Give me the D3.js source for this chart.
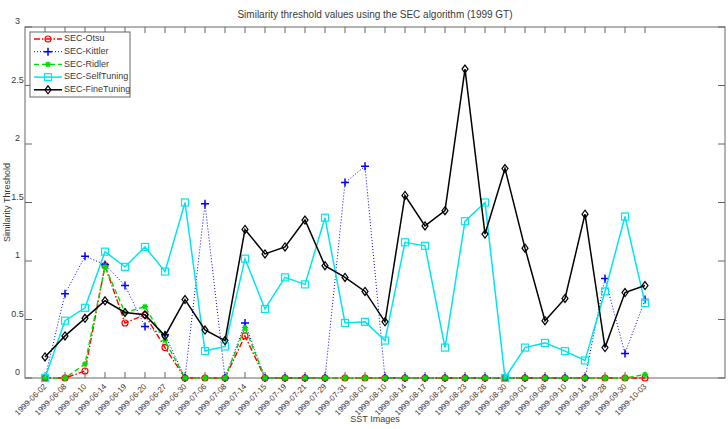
<!DOCTYPE html>
<html>
<head>
<meta charset="utf-8">
<script src="https://cdn.jsdelivr.net/npm/d3@7"></script>
<style>
  body { margin: 0; background: #fff; }
  svg text { font-family: "Liberation Sans", Arial, sans-serif; fill: #3a3a3a; }
</style>
</head>
<body>
<div class="chart_area"></div>
<script>
// image dates (x categories)
var dates = ["1999-06-02","1999-06-08","1999-06-10","1999-06-14","1999-06-19","1999-06-20",
  "1999-06-27","1999-06-30","1999-07-06","1999-07-08","1999-07-14","1999-07-15","1999-07-19",
  "1999-07-21","1999-07-29","1999-07-31","1999-08-01","1999-08-10","1999-08-14","1999-08-17",
  "1999-08-21","1999-08-23","1999-08-26","1999-08-30","1999-09-01","1999-09-08","1999-09-10",
  "1999-09-14","1999-09-28","1999-09-30","1999-10-03"];

var otsu = [0,0,0.06,0.96,0.47,0.54,0.26,0,0,0,0.36,0,0,0,0,0,0,0,0,0,0,0,0,0,0,0,0,0,0,0,0];
var kittler = [0,0.72,1.04,0.97,0.79,0.44,0.37,0,1.49,0,0.47,0,0,0,0,1.67,1.81,0,0,0,0,0,0,0,0,0,0,0,0.85,0.21,0.67];
var ridler = [0,0,0.12,0.95,0.56,0.61,0.32,0,0,0,0.43,0,0,0,0,0,0,0,0,0,0,0,0,0,0,0,0,0,0,0,0.03];
var selfTuning = [0,0.49,0.60,1.08,0.95,1.12,0.91,1.50,0.23,0.27,1.02,0.59,0.86,0.80,1.37,0.47,0.48,0.32,1.16,1.13,0.26,1.34,1.50,0,0.26,0.30,0.23,0.15,0.74,1.38,0.64];
var fineTuning = [0.18,0.36,0.51,0.66,0.56,0.54,0.36,0.67,0.41,0.32,1.27,1.06,1.12,1.35,0.96,0.86,0.74,0.48,1.56,1.30,1.43,2.64,1.23,1.79,1.11,0.49,0.68,1.40,0.26,0.73,0.79];

var yTicks = [0, 0.5, 1, 1.5, 2, 2.5, 3];

var series = [
  { name: "SEC-Otsu", values: otsu, color: "#ff0000", dash: "6,2,1.5,2", width: 1.4, marker: "circle" },
  { name: "SEC-Kittler", values: kittler, color: "#0000ff", dash: "1,2", width: 1, marker: "plus" },
  { name: "SEC-Ridler", values: ridler, color: "#00dd00", dash: "5,3", width: 1.4, marker: "star" },
  { name: "SEC-SelfTuning", values: selfTuning, color: "#00e5ee", dash: null, width: 1.5, marker: "square" },
  { name: "SEC-FineTuning", values: fineTuning, color: "#000000", dash: null, width: 1.5, marker: "diamond" }
];

var W = 728, H = 429;
var plot = { left: 25, right: 725, top: 27, bottom: 378 };

var svg = d3.select(".chart_area").append("svg")
  .attr("width", W).attr("height", H);

var x = d3.scaleLinear().domain([0, 35]).range([plot.left, plot.right]);
var y = d3.scaleLinear().domain([0, 3]).range([plot.bottom, plot.top]);

var axisColor = "#666";

// box
svg.append("rect")
  .attr("x", plot.left).attr("y", plot.top)
  .attr("width", plot.right - plot.left).attr("height", plot.bottom - plot.top)
  .attr("fill", "none").attr("stroke", axisColor).attr("stroke-width", 1);

// x ticks, bottom and top, inward
var idx = d3.range(1, dates.length + 1);
svg.append("g").selectAll("line").data(idx).enter().append("line")
  .attr("x1", function(d){ return x(d); }).attr("x2", function(d){ return x(d); })
  .attr("y1", plot.bottom).attr("y2", plot.bottom - 6)
  .attr("stroke", axisColor);
svg.append("g").selectAll("line").data(idx).enter().append("line")
  .attr("x1", function(d){ return x(d); }).attr("x2", function(d){ return x(d); })
  .attr("y1", plot.top).attr("y2", plot.top + 6)
  .attr("stroke", axisColor);

// y ticks, left and right, inward
svg.append("g").selectAll("line").data(yTicks).enter().append("line")
  .attr("x1", plot.left).attr("x2", plot.left + 7)
  .attr("y1", function(d){ return y(d); }).attr("y2", function(d){ return y(d); })
  .attr("stroke", axisColor);
svg.append("g").selectAll("line").data(yTicks).enter().append("line")
  .attr("x1", plot.right).attr("x2", plot.right - 7)
  .attr("y1", function(d){ return y(d); }).attr("y2", function(d){ return y(d); })
  .attr("stroke", axisColor);

// y tick labels
svg.append("g").selectAll("text").data(yTicks).enter().append("text")
  .attr("x", 17.5).attr("y", function(d){ return y(d) - 5; })
  .attr("text-anchor", "middle").attr("dominant-baseline", "middle")
  .style("font-size", "9px")
  .text(function(d){ return d; });

// x tick labels, rotated
svg.append("g").selectAll("text").data(dates).enter().append("text")
  .attr("transform", function(d, i){ return "translate(" + (x(i + 1) + 2) + "," + (plot.bottom + 9) + ") rotate(-45)"; })
  .attr("text-anchor", "end")
  .style("font-size", "8px")
  .text(function(d){ return d; });

// titles
svg.append("text").attr("x", (plot.left + plot.right) / 2).attr("y", 18)
  .attr("text-anchor", "middle").style("font-size", "10px")
  .text("Similarity threshold values using the SEC algorithm (1999 GT)");
svg.append("text").attr("x", (plot.left + plot.right) / 2).attr("y", 422)
  .attr("text-anchor", "middle").style("font-size", "9px")
  .text("SST Images");
svg.append("text")
  .attr("transform", "translate(10," + ((plot.top + plot.bottom) / 2) + ") rotate(-90)")
  .attr("text-anchor", "middle").style("font-size", "9px")
  .text("Similarity Threshold");

function drawMarker(g, type, color, cx, cy) {
  if (type == "circle") {
    g.append("circle").attr("cx", cx).attr("cy", cy).attr("r", 3)
      .attr("fill", "none").attr("stroke", color).attr("stroke-width", 1.2);
  } else if (type == "plus") {
    g.append("path").attr("d", "M" + (cx - 4) + "," + cy + "H" + (cx + 4) + "M" + cx + "," + (cy - 4) + "V" + (cy + 4))
      .attr("stroke", color).attr("stroke-width", 1.5);
  } else if (type == "star") {
    var r = 3;
    g.append("path").attr("d",
      "M" + (cx - r) + "," + cy + "H" + (cx + r) +
      "M" + cx + "," + (cy - r) + "V" + (cy + r) +
      "M" + (cx - r * 0.7) + "," + (cy - r * 0.7) + "L" + (cx + r * 0.7) + "," + (cy + r * 0.7) +
      "M" + (cx - r * 0.7) + "," + (cy + r * 0.7) + "L" + (cx + r * 0.7) + "," + (cy - r * 0.7))
      .attr("stroke", color).attr("stroke-width", 1.3);
  } else if (type == "square") {
    g.append("rect").attr("x", cx - 3.5).attr("y", cy - 3.5).attr("width", 7).attr("height", 7)
      .attr("fill", "none").attr("stroke", color).attr("stroke-width", 1.2);
  } else if (type == "diamond") {
    g.append("path").attr("d", "M" + cx + "," + (cy - 4) + "L" + (cx + 3) + "," + cy + "L" + cx + "," + (cy + 4) + "L" + (cx - 3) + "," + cy + "Z")
      .attr("fill", "none").attr("stroke", color).attr("stroke-width", 1.2);
  }
}

var line = d3.line()
  .x(function(d, i){ return x(i + 1); })
  .y(function(d){ return y(d); });

series.forEach(function(s) {
  var g = svg.append("g");
  g.append("path")
    .datum(s.values)
    .attr("d", line)
    .attr("fill", "none")
    .attr("stroke", s.color)
    .attr("stroke-width", s.width)
    .attr("stroke-dasharray", s.dash);
  s.values.forEach(function(v, i) {
    drawMarker(g, s.marker, s.color, x(i + 1), y(v));
  });
});

// legend
var lg = svg.append("g");
lg.append("rect").attr("x", 30).attr("y", 32).attr("width", 100).attr("height", 65)
  .attr("fill", "#fff").attr("stroke", axisColor);
series.forEach(function(s, i) {
  var ly = 39 + i * 12.7;
  lg.append("line").attr("x1", 34).attr("x2", 62).attr("y1", ly).attr("y2", ly)
    .attr("stroke", s.color).attr("stroke-width", s.width).attr("stroke-dasharray", s.dash);
  drawMarker(lg, s.marker, s.color, 48, ly);
  lg.append("text").attr("x", 64).attr("y", ly).attr("dominant-baseline", "middle")
    .style("font-size", "9px").text(s.name);
});
</script>
</body>
</html>
